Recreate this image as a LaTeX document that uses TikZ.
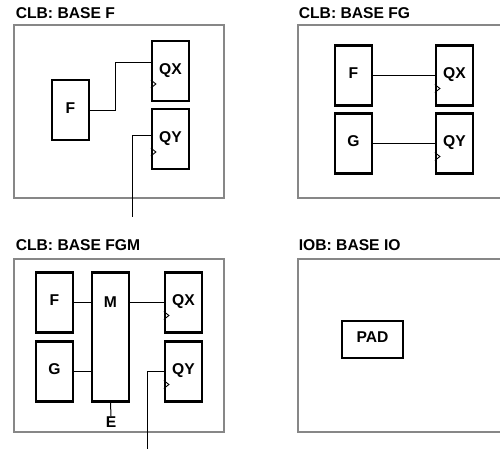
\documentclass[tikz,border=0pt]{standalone}
\usepackage{fontspec}
\setmainfont{Liberation Sans}
\usepackage{tikz}
\usetikzlibrary{arrows.meta,positioning,fit}

\begin{document}
\begin{tikzpicture}[panel/.style={draw=black!47,line width=0.04cm,minimum width=4.19cm,minimum height=3.46cm},
cell/.style={draw,line width=0.045cm,minimum width=0.74cm,minimum height=1.2cm,font=\fontsize{8.9pt}{10pt}\bfseries,inner sep=0pt,text depth=0cm,text height=0.13cm},
title/.style={anchor=base west,font=\fontsize{8.9pt}{10pt}\bfseries,inner sep=0pt},
wire/.style={line width=0.02cm},clk/.style={line width=0.018cm}]
\useasboundingbox (0,0) rectangle (10,9);
% panels
\node[panel] (pa) at (2.375,6.77) {};
\node[panel] (pb) at (8.055,6.77) {};
\node[panel] (pc) at (2.375,2.1) {};
\node[panel] (pd) at (8.055,2.1) {};
\node[title] (ta) at (0.31,8.63) {CLB: BASE F};
\node[title] (tb) at (5.97,8.63) {CLB: BASE FG};
\node[title] (tc) at (0.31,3.99) {CLB: BASE FGM};
\node[title] (td) at (5.97,3.99) {IOB: BASE IO};
% base f
\node[cell] (fa) at (1.41,6.8) {F};
\node[cell] (qxa) at (3.41,7.58) {QX};
\node[cell] (qya) at (3.41,6.22) {QY};
\coordinate (outa) at (2.65,4.66);
\draw[wire] (fa.east) -- ++(0.5,0) |- ([yshift=0.16cm]qxa.west);
\draw[wire] ([yshift=0.08cm]qya.west) -| (outa);
% base fg
\node[cell] (fb) at (7.07,7.49) {F};
\node[cell] (gb) at (7.07,6.13) {G};
\node[cell] (qxb) at (9.09,7.49) {QX};
\node[cell] (qyb) at (9.09,6.13) {QY};
\draw[wire] (fb) -- (qxb);
\draw[wire] (gb) -- (qyb);
% base fgm
\node[cell] (fc) at (1.09,2.95) {F};
\node[cell] (gc) at (1.09,1.57) {G};
\node[cell,minimum height=2.58cm,text depth=1.31cm] (mc) at (2.21,2.26) {M};
\node[cell] (qxc) at (3.67,2.95) {QX};
\node[cell] (qyc) at (3.67,1.57) {QY};
\node[font=\fontsize{8.9pt}{10pt}\bfseries,inner sep=0pt] (ec) at (2.22,0.56) {E};
\coordinate (outc) at (2.95,0.02);
\draw[wire] (fc) -- (fc -| mc.west);
\draw[wire] (gc) -- (gc -| mc.west);
\draw[wire] (qxc -| mc.east) -- (qxc);
\draw[wire] (mc.south) -- (ec.north);
\draw[wire] (qyc.west) -| (outc);
% base io
\node[cell,minimum width=1.22cm,minimum height=0.74cm] (pad) at (7.45,2.21) {PAD};
% clock marks
\foreach \q in {qxa,qya,qxb,qyb,qxc,qyc}
\draw[clk] ([shift={(0,-0.18cm)}]\q.west) -- ([shift={(0.1cm,-0.26cm)}]\q.west) -- ([shift={(0,-0.34cm)}]\q.west);
\end{tikzpicture}
\end{document}
